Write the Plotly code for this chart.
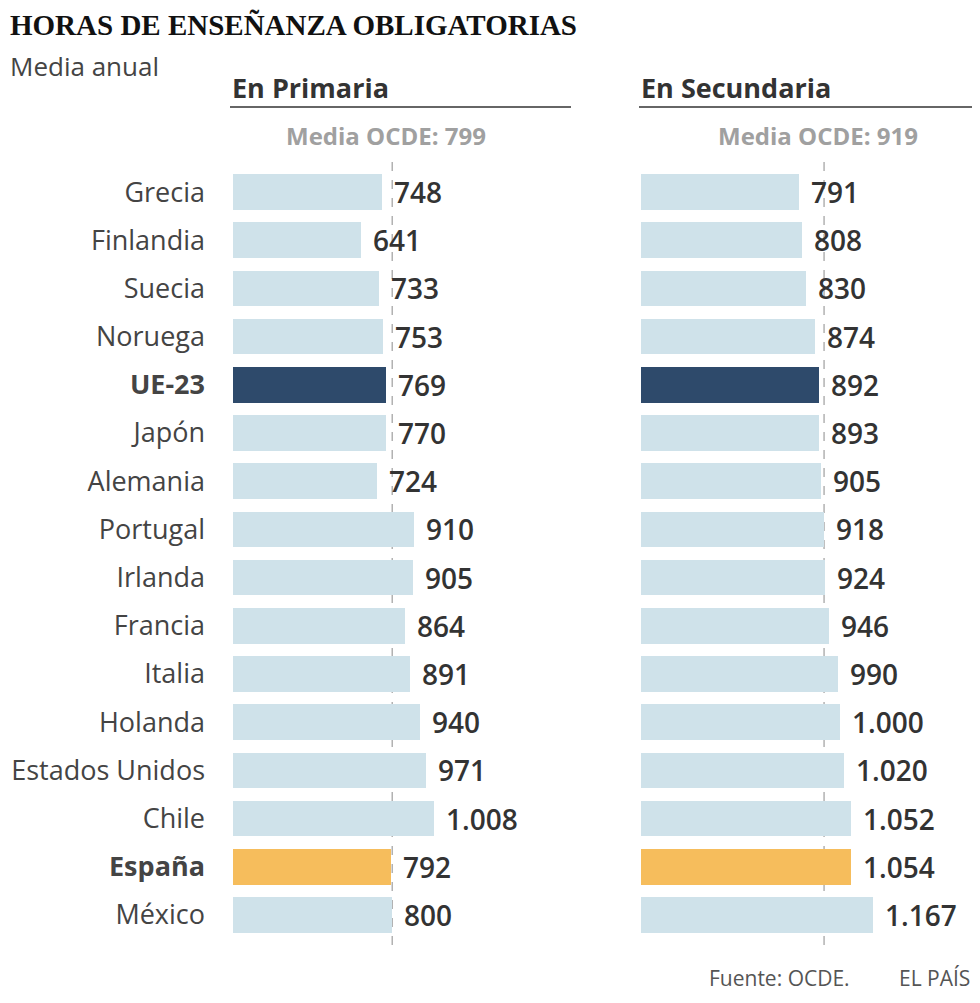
import plotly.graph_objects as go

# the page draws the figure inside an 8px body margin, so only 8..972 is visible
OFF = 8
RIGHT = 972
W, H = RIGHT - OFF, 1003 - 2 * OFF

paises = ["Grecia", "Finlandia", "Suecia", "Noruega", "UE-23", "Japón", "Alemania",
          "Portugal", "Irlanda", "Francia", "Italia", "Holanda", "Estados Unidos",
          "Chile", "España", "México"]
primaria = [748, 641, 733, 753, 769, 770, 724, 910, 905, 864, 891, 940, 971, 1008, 792, 800]
secundaria = [791, 808, 830, 874, 892, 893, 905, 918, 924, 946, 990, 1000, 1020, 1052, 1054, 1167]
media_ocde = {"primaria": 799, "secundaria": 919}

AZUL, MARINO, NARANJA = "#cfe2ea", "#2e4a6b", "#f6bd5c"
destacados = {"UE-23": MARINO, "España": NARANJA}
colores = [destacados.get(p, AZUL) for p in paises]
ticktext = [f"<b>{p}</b>" if p in destacados else p for p in paises]

FONT = "Open Sans"
PX_PER_UNIT = 0.1992


def px(x):
    return (x - OFF) / W


def py(y):
    return 1 - (y - OFF) / H


def miles(v):
    return f"{v:,}".replace(",", ".")


fig = go.Figure()

paneles = [
    ("x", "y", primaria, media_ocde["primaria"], 233, 571, "En Primaria", 230),
    ("x2", "y2", secundaria, media_ocde["secundaria"], 641, RIGHT, "En Secundaria", 639),
]

annotations = []
shapes = []
y_top, y_bot = 168, 939  # row band extents in px

for xa, ya, vals, media, x0, x1, titulo, tx in paneles:
    fig.add_trace(go.Bar(
        x=vals, y=list(range(len(paises))), orientation="h",
        marker=dict(color=colores, line=dict(width=0)),
        width=0.74, xaxis=xa, yaxis=ya, showlegend=False,
        hoverinfo="x+y",
    ))
    for i, v in enumerate(vals):
        annotations.append(dict(
            x=v, y=i, xref=xa, yref=ya, text=miles(v), showarrow=False,
            xanchor="left", yanchor="middle", xshift=10,
            font=dict(family=FONT, size=28, color="#333333", weight=600),
        ))
    shapes.append(dict(
        type="line", xref=xa, yref="paper", x0=media, x1=media,
        y0=py(945), y1=py(155), line=dict(color="#8a8a8a", width=1, dash="dash"),
        layer="below",
    ))
    annotations.append(dict(
        x=media, y=py(136), xref=xa, yref="paper", text=f"<b>Media OCDE: {media}</b>",
        showarrow=False, xanchor="center", yanchor="middle", xshift=-6,
        font=dict(family=FONT, size=24, color="#a0a0a0"),
    ))
    annotations.append(dict(
        x=px(tx), y=py(88), xref="paper", yref="paper", text=f"<b>{titulo}</b>",
        showarrow=False, xanchor="left", yanchor="middle",
        font=dict(family=FONT, size=27, color="#333333"),
    ))
    shapes.append(dict(
        type="line", xref="paper", yref="paper", x0=px(tx), x1=px(x1),
        y0=py(107), y1=py(107), line=dict(color="#666666", width=2),
    ))

axis_x = dict(showgrid=False, zeroline=False, showticklabels=False, ticks="",
              fixedrange=True)
axis_y = dict(showgrid=False, zeroline=False, ticks="", autorange=False,
              range=[len(paises) - 0.5, -0.5], domain=[py(y_bot), py(y_top)])

fig.update_layout(
    width=W, height=H,
    margin=dict(l=0, r=0, t=0, b=0),
    paper_bgcolor="white", plot_bgcolor="rgba(0,0,0,0)",
    bargap=0,
    xaxis=dict(axis_x, domain=[px(233), px(571)], range=[0, (571 - 233) / PX_PER_UNIT]),
    xaxis2=dict(axis_x, domain=[px(641), 1], range=[0, (RIGHT - 641) / PX_PER_UNIT]),
    yaxis=dict(axis_y, anchor="x", tickvals=list(range(len(paises))), ticktext=ticktext,
               showticklabels=True, ticklabelstandoff=27,
               tickfont=dict(family=FONT, size=27, color="#444444")),
    yaxis2=dict(axis_y, anchor="x2", showticklabels=False),
    shapes=shapes,
    annotations=annotations + [
        dict(x=0, y=py(25), xref="paper", yref="paper",
             text="<b>HORAS DE ENSEÑANZA OBLIGATORIAS</b>", showarrow=False,
             xanchor="left", yanchor="middle",
             font=dict(family="Liberation Serif", size=29, color="#111111")),
        dict(x=0, y=py(66), xref="paper", yref="paper", text="Media anual",
             showarrow=False, xanchor="left", yanchor="middle",
             font=dict(family=FONT, size=26, color="#444444")),
        dict(x=px(852), y=py(978), xref="paper", yref="paper", text="Fuente: OCDE.",
             showarrow=False, xanchor="right", yanchor="middle",
             font=dict(family=FONT, size=21, color="#555555")),
        dict(x=1, y=py(978), xref="paper", yref="paper", text="EL PAÍS",
             showarrow=False, xanchor="right", yanchor="middle",
             font=dict(family=FONT, size=21, color="#555555")),
    ],
)

fig.write_html("out.html")
